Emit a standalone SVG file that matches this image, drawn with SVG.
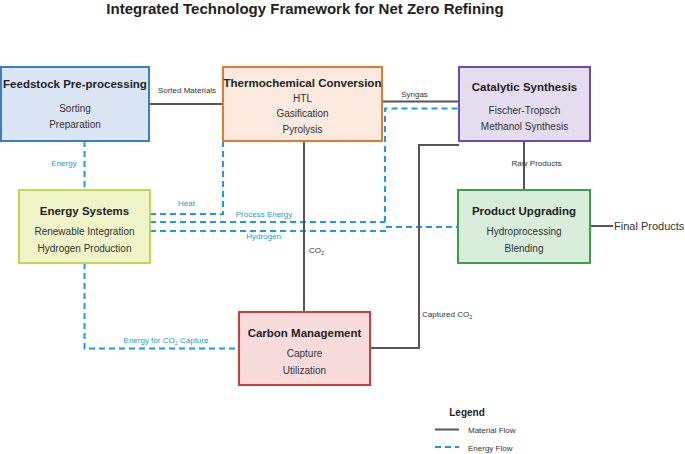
<svg xmlns="http://www.w3.org/2000/svg" width="685" height="454" viewBox="0 0 685 454">
<style>
text{font-family:"Liberation Sans",Arial,sans-serif}
.title{font-size:15px;font-weight:bold;fill:#222}
.nt{font-size:11.5px;font-weight:bold;fill:#222;text-anchor:middle}
.ns{font-size:10px;fill:#333;text-anchor:middle}
.lbl{font-size:8px;fill:#333}
.elbl{font-size:8px;fill:#1a9de0}
.mat{fill:none;stroke:#555;stroke-width:2}
.en{fill:none;stroke:#1a9de0;stroke-width:2;stroke-dasharray:6,4}
.box{stroke-width:2}
</style>
<rect width="685" height="454" fill="#fff"/>
<text class="title" x="305" y="14" text-anchor="middle">Integrated Technology Framework for Net Zero Refining</text>

<g id="connectors">
  <line class="mat" x1="149" y1="104" x2="223" y2="104"/>
  <text class="lbl" x="187" y="93" text-anchor="middle">Sorted Materials</text>
  <line class="mat" x1="382" y1="101.5" x2="459" y2="101.5"/>
  <text class="lbl" x="414.5" y="97" text-anchor="middle">Syngas</text>
  <polyline class="en" points="385,222 385,108.5 459,108.5"/>
  <line class="en" x1="84.5" y1="141" x2="84.5" y2="190"/>
  <text class="elbl" x="64" y="166" text-anchor="middle">Energy</text>
  <polyline class="en" points="150,214 223,214 223,141"/>
  <text class="elbl" x="186.5" y="206" text-anchor="middle">Heat</text>
  <line class="en" x1="150" y1="222" x2="385" y2="222"/>
  <text class="elbl" x="264" y="217" text-anchor="middle">Process Energy</text>
  <polyline class="en" points="150,231 385,231 385,227 458,227"/>
  <text class="elbl" x="263.5" y="239" text-anchor="middle">Hydrogen</text>
  <line class="mat" x1="304" y1="141" x2="304" y2="312"/>
  <text class="lbl" x="309" y="253">CO<tspan font-size="5.5" dy="2">2</tspan></text>
  <polyline class="mat" points="370,348 419,348 419,145 459,145"/>
  <text class="lbl" x="422" y="317">Captured CO<tspan font-size="5.5" dy="2">2</tspan></text>
  <line class="mat" x1="524" y1="141" x2="524" y2="190"/>
  <text class="lbl" x="536.5" y="166" text-anchor="middle">Raw Products</text>
  <line class="mat" x1="590" y1="226" x2="613" y2="226"/>
  <text x="614" y="229.5" font-size="11" fill="#333">Final Products</text>
  <polyline class="en" points="84.5,263 84.5,348.5 239,348.5"/>
  <text class="elbl" x="166" y="343" text-anchor="middle">Energy for CO<tspan font-size="5.5" dy="2">2</tspan><tspan dy="-2"> Capture</tspan></text>
</g>

<g id="feedstock">
  <rect class="box" x="1" y="67" width="148" height="74" fill="#dae6f3" stroke="#3a7dc9"/>
  <text class="nt" x="75" y="88">Feedstock Pre-processing</text>
  <text class="ns" x="75" y="112">Sorting</text>
  <text class="ns" x="75" y="128">Preparation</text>
</g>
<g id="thermochemical">
  <rect class="box" x="223" y="67" width="159" height="74" fill="#fbeadd" stroke="#e07b2e"/>
  <text class="nt" x="302.5" y="87">Thermochemical Conversion</text>
  <text class="ns" x="302.5" y="102">HTL</text>
  <text class="ns" x="302.5" y="117">Gasification</text>
  <text class="ns" x="302.5" y="133">Pyrolysis</text>
</g>
<g id="catalytic">
  <rect class="box" x="459" y="67" width="131" height="74" fill="#e4dcef" stroke="#6a4bab"/>
  <text class="nt" x="524.5" y="91">Catalytic Synthesis</text>
  <text class="ns" x="524.5" y="114">Fischer-Tropsch</text>
  <text class="ns" x="524.5" y="129.5">Methanol Synthesis</text>
</g>
<g id="energy">
  <rect class="box" x="19" y="190" width="131" height="73" fill="#eff5c8" stroke="#c6d64c"/>
  <text class="nt" x="84.5" y="215">Energy Systems</text>
  <text class="ns" x="84.5" y="235">Renewable Integration</text>
  <text class="ns" x="84.5" y="251.5">Hydrogen Production</text>
</g>
<g id="upgrading">
  <rect class="box" x="458" y="190" width="132" height="73" fill="#d8eedb" stroke="#3d9e4a"/>
  <text class="nt" x="524" y="215">Product Upgrading</text>
  <text class="ns" x="524" y="235">Hydroprocessing</text>
  <text class="ns" x="524" y="251.5">Blending</text>
</g>
<g id="carbon">
  <rect class="box" x="239" y="312" width="131" height="73" fill="#f8dcdc" stroke="#d83a3a"/>
  <text class="nt" x="304.5" y="337">Carbon Management</text>
  <text class="ns" x="304.5" y="357">Capture</text>
  <text class="ns" x="304.5" y="373.5">Utilization</text>
</g>
<g id="legend">
  <text x="467" y="416" font-size="10" font-weight="bold" fill="#222" text-anchor="middle">Legend</text>
  <line class="mat" x1="435" y1="429.5" x2="459" y2="429.5"/>
  <text class="lbl" x="468" y="433">Material Flow</text>
  <line class="en" x1="435" y1="447" x2="459" y2="447"/>
  <text class="lbl" x="468" y="450.5">Energy Flow</text>
</g>
</svg>
